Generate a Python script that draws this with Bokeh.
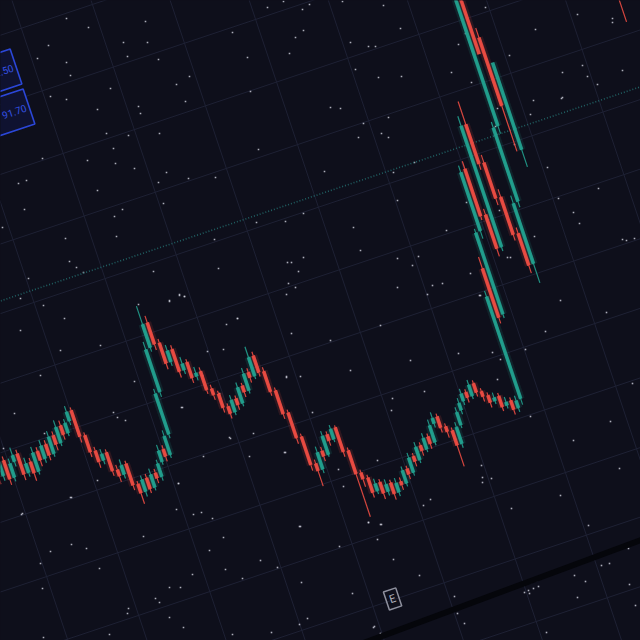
import math
from bokeh.plotting import figure
from bokeh.models import Range1d, GlobalInlineStyleSheet
from bokeh.core.properties import value
from bokeh.embed import file_html
from bokeh.resources import INLINE

# ---------------- data (price in chart points, candle number on time axis) -------------
candle_no = list(range(121)) + [148, 149]

open_ = [162,155,170,150,165,172,150,160,148,168,
         158,172,160,178,168,185,175,186,196,168,
         150,138,145,125,118,128,105,95,108,96,
         110,104,118,130,122,142,185,230,255,232,
         210,222,198,205,188,192,172,165,150,142,
         155,148,165,158,176,170,190,172,150,125,
         98,68,60,78,72,92,85,96,70,45,
         38,22,30,18,26,14,24,20,34,28,
         44,38,52,46,58,50,68,74,62,56,
         40,58,72,80,88,82,94,84,78,70,
         74,62,66,56,
         64,200,150,236,300,250,214,342,300,262,222,188,252,330,470,420,300,
         440,380]
high = [168,176,174,170,180,176,166,164,174,172,
        178,176,184,182,192,190,190,202,199,171,
        154,150,148,130,134,131,108,112,112,116,
        114,122,136,134,148,190,238,274,262,236,
        228,226,212,208,198,196,176,168,153,160,
        158,170,168,182,180,201,194,176,153,128,
        101,72,84,82,97,95,100,98,73,48,
        41,35,33,31,29,29,28,38,37,49,
        47,57,55,63,61,74,80,77,65,59,
        63,77,85,93,91,99,97,87,81,79,
        77,71,69,69,
        178,212,240,305,308,256,352,366,308,270,228,260,336,490,478,430,362,
        450,445]
low = [148,150,144,146,160,144,146,140,145,152,
       154,155,157,162,165,170,172,182,162,145,
       132,134,120,112,114,100,84,90,92,93,
       99,100,115,117,119,138,180,226,226,204,
       206,192,194,183,184,168,160,145,137,139,
       143,145,153,155,165,167,168,146,120,92,
       62,44,56,67,70,80,82,65,0,30,
       17,19,12,14,8,10,15,17,23,25,
       33,35,41,43,45,47,64,57,50,18,
       36,55,68,76,77,79,80,73,65,67,
       58,59,51,52,
       58,142,146,228,246,206,210,294,255,216,180,168,246,322,412,300,282,
       388,372]
close = [155,170,150,165,172,150,160,148,168,158,
         172,160,178,168,185,175,186,196,168,150,
         138,145,125,118,128,105,95,108,96,110,
         104,118,130,122,142,185,230,255,232,210,
         222,198,205,188,192,172,165,150,142,155,
         148,165,158,176,170,190,172,150,125,98,
         68,60,78,72,92,85,96,70,45,38,
         22,30,18,26,14,24,20,34,28,44,
         38,52,46,58,50,68,74,62,56,40,
         58,72,80,88,82,94,84,78,70,74,
         62,66,56,64,
         172,148,236,298,250,214,342,300,262,222,188,252,330,470,404,348,
         392,430]

price_line_level = 322
event_candle = 67
event_label = "E"
axis_labels = ["92.50", "91.70"]

star_x = [66,88,145,48,37,123,147,127,158,66,70,110,50,66,97,138,140,176,189,185,
          232,247,250,267,283,289,295,303,302,309,342,383,400,350,368,375,355,378,401,330,
          340,388,363,358,381,388,258,324,393,414,42,87,106,113,128,159,115,134,166,158,
          188,215,18,26,97,163,24,122,114,2,65,116,214,256,285,303,353,397,360,397,
          418,412,303,287,291,298,288,295,286,397,427,432,218,153,69,76,83,28,20,43,
          64,179,184,169,237,
          70,21,176,193,201,212,223,143,71,86,50,209,40,99,192,225,260,277,242,299,
          339,377,368,381,393,301,42,169,180,155,159,128,127,352,169,183,232,271,299,307,
          373,43,109,
          485,465,458,535,577,612,612,509,582,562,622,597,533,561,451,471,497,495,496,514,
          547,558,579,626,634,446,466,499,507,510,534,470,442,480,
          479,545,525,492,500,458,497,530,
          424,392,391,312,285,377,338,343,481,482,491,482,423,430,511,368,380,300,
          202,286,300,182,219,253,230,284,249,203,178,
          138,169,179,184,237,226,291,207,223,134,202,286,181,229,
          14,44,3,113,117,125,97,71,22,178,
          419,454,374,464,546,571,574,585,577,629,635,601,609,
          520,525,530,536,524,528,533,538,529,454,457,380,
          587,562,530,598,573,622,606,560,632,610,560,628,588,573,619,
          20,60,100,40,330,380,410,350]
star_y = [18,27,21,45,58,42,42,56,59,62,75,88,96,99,109,106,113,84,76,101,
          32,57,91,7,1,53,37,30,9,4,1,5,28,42,46,46,69,77,76,107,
          108,117,123,137,133,137,149,171,172,162,158,160,133,148,135,133,163,168,172,182,
          178,177,183,180,190,203,209,209,216,227,238,236,239,222,221,213,227,200,250,258,
          256,265,257,262,262,271,283,287,294,287,294,285,268,271,261,267,272,278,298,305,
          318,295,296,301,318,
          497,514,509,514,512,518,537,536,544,548,551,550,563,568,574,569,560,567,578,526,
          546,539,522,524,559,582,588,587,587,598,602,608,613,593,617,627,634,632,624,618,
          627,637,634,
          7,33,44,29,14,18,22,55,65,72,70,84,100,98,72,82,108,126,134,144,
          167,198,223,240,238,230,202,210,257,257,236,273,283,295,
          295,331,349,352,359,353,379,416,
          391,398,410,412,452,460,469,486,465,477,478,482,505,499,508,522,524,526,
          376,376,376,407,393,433,438,452,456,456,483,
          304,300,294,296,318,324,333,351,349,381,375,377,407,437,
          413,433,448,412,417,420,480,497,513,483,
          575,596,626,623,632,566,575,581,597,584,605,565,563,
          585,581,582,580,592,590,588,586,593,608,613,633,
          76,97,114,188,212,239,312,300,383,421,495,548,525,440,468,
          330,350,345,375,340,325,360,370]

# ---------------- layout / style -------------------------------------------------------
BG = "#0e0f1b"
UP = "#22a08e"
DOWN = "#ec4c42"
THETA = math.radians(18.5)
CS, SN = math.cos(THETA), math.sin(THETA)
T0, STEP = 50, 5           # time position of candle 0 and spacing (px)
GRID_T0, GRID_DT = 214, 75
GRID_P0, GRID_DP = 46, 66
W = H = 640


def to_screen(t, pr):
    """rotate chart frame (time, price) into the tilted view"""
    return CS * t - SN * pr, SN * t + CS * pr


p = figure(width=W, height=H, x_range=Range1d(0, W), y_range=Range1d(0, H),
           output_backend="svg", toolbar_location=None, min_border=0,
           x_axis_type=None, y_axis_type=None,
           background_fill_color=BG, border_fill_color=BG, outline_line_color=None)
p.stylesheets = [GlobalInlineStyleSheet(css="html, body { background: %s; }" % BG)]

# rotated grid
gx0, gy0, gx1, gy1 = [], [], [], []
for k in range(-5, 12):
    t = GRID_T0 + GRID_DT * k
    a = to_screen(t, -400); b = to_screen(t, 1000)
    gx0.append(a[0]); gy0.append(a[1]); gx1.append(b[0]); gy1.append(b[1])
for k in range(-6, 14):
    pr = GRID_P0 + GRID_DP * k
    a = to_screen(-400, pr); b = to_screen(1200, pr)
    gx0.append(a[0]); gy0.append(a[1]); gx1.append(b[0]); gy1.append(b[1])
p.segment(gx0, gy0, gx1, gy1, line_color="#1e2134", line_width=1)

# stars
p.scatter(star_x, [H - y for y in star_y], marker="square", size=1.6,
          fill_color="#d4d6e2", line_color=None, alpha=0.8)

# price line
a = to_screen(-300, price_line_level); b = to_screen(1100, price_line_level)
p.line([a[0], b[0]], [a[1], b[1]], line_color="#22696a", line_width=1.6,
       line_dash="1 2", alpha=0.9)

# time-axis band
a = to_screen(330, -118); b = to_screen(820, -102)
p.line([a[0], b[0]], [a[1], b[1]], line_color="#05060b", line_width=6)

# candles
wx0, wy0, wx1, wy1, bx0, by0, bx1, by1, cols = [], [], [], [], [], [], [], [], []
for n, o, h, l, c in zip(candle_no, open_, high, low, close):
    t = T0 + STEP * n
    a = to_screen(t, l); b = to_screen(t, h)
    wx0.append(a[0]); wy0.append(a[1]); wx1.append(b[0]); wy1.append(b[1])
    a = to_screen(t, o); b = to_screen(t, c)
    bx0.append(a[0]); by0.append(a[1]); bx1.append(b[0]); by1.append(b[1])
    cols.append(UP if c >= o else DOWN)

p.segment(bx0, by0, bx1, by1, line_color=cols, line_width=8, line_alpha=0.14)
p.segment(wx0, wy0, wx1, wy1, line_color=cols, line_width=1.2, line_alpha=0.9)
p.segment(bx0, by0, bx1, by1, line_color=cols, line_width=3.6, line_alpha=0.95)

# event badge on the time axis
ex, ey = to_screen(T0 + STEP * event_candle, -85)
p.rect([ex], [ey], width=13, height=19, angle=THETA, fill_color=None,
       line_color="#8e909e", line_width=1.5)
p.text([ex], [ey], text=[event_label], angle=THETA, text_align="center",
       text_baseline="middle", text_color="#b0b2be", text_font_size="11px",
       text_font=value("Roboto"))

# price labels at the left border
lab_right = [(15.5, H - 66), (28.5, H - 106)]
for txt, (rx, ry) in zip(axis_labels, lab_right):
    cx, cy = rx - 30 * CS, ry - 30 * SN
    p.rect([cx], [cy], width=60, height=37, angle=THETA, fill_color="#0f1230",
           line_color="#2b47d8", line_width=1.6)
    p.text([rx - 3 * CS], [ry - 3 * SN], text=[txt], angle=THETA, text_align="right",
           text_baseline="middle", text_color="#3552e6", text_font_size="10px",
           text_font=value("Roboto"))

open("out.html", "w").write(file_html(p, INLINE))
